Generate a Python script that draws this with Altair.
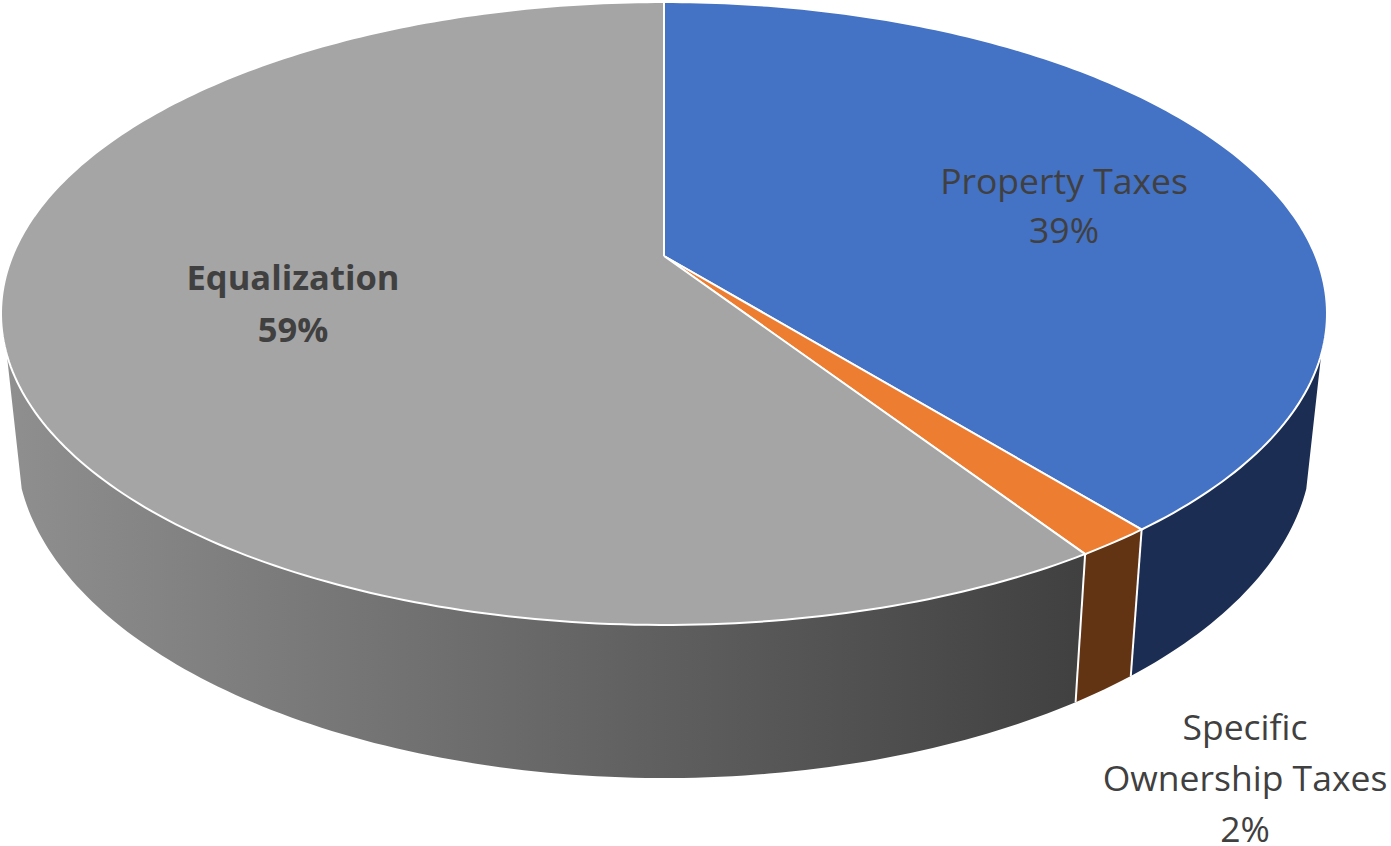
import math

import altair as alt
import pandas as pd

# Revenue shares, clockwise from twelve o'clock
categories = ["Property Taxes", "Specific Ownership Taxes", "Equalization"]
shares = [39.2, 1.6, 59.2]
top_colors = ["#4472C4", "#ED7D31", "#A5A5A5"]
wall_colors = ["#1B2D52", "#633414", "#8F8F8F"]

WIDTH, HEIGHT = 1391, 846
FONT = "Open Sans"
TEXT_COLOR = "#404040"

# Perspective disc: screen position of a point on the pie's unit circle
TILT = 0.1846
TOP_FACE = dict(ax=651.6, c=256.0, b=253.6)
FLOOR = dict(ax=636.8, c=383.5, b=250.9)
CENTER_X = 664.0
# Fraction of a turn at which the wall's silhouette leaves the rim
HORIZON = 30.0


def rim_point(percent, plane):
    angle = 2 * math.pi * percent / 100
    u, v = math.sin(angle), math.cos(angle)
    w = 1 + TILT * v
    return CENTER_X + plane["ax"] * u / w, (plane["c"] - plane["b"] * v) / w


def rim(start, end, plane, step=0.25):
    count = max(2, int(abs(end - start) / step) + 1)
    return [rim_point(start + (end - start) * i / (count - 1), plane) for i in range(count)]


def outline(points):
    closed = list(points) + [points[0]]
    return pd.DataFrame(
        [{"x": x, "y": y, "i": i} for i, (x, y) in enumerate(closed)]
    )


def encode(chart):
    return chart.encode(
        x=alt.X("x:Q", scale=alt.Scale(domain=[0, WIDTH]), axis=None),
        y=alt.Y("y:Q", scale=alt.Scale(domain=[HEIGHT, 0]), axis=None),
        order=alt.Order("i:Q"),
    )


def polygon(points, **style):
    return encode(alt.Chart(outline(points)).mark_line(**style))


edges = [0.0]
for value in shares:
    edges.append(edges[-1] + value)

layers = []

# Side walls, visible only on the near half of the disc
wall_ranges = [
    (HORIZON, edges[1]),
    (edges[1], edges[2]),
    (edges[2], 100.0 - HORIZON),
]
wall_fills = [
    wall_colors[0],
    wall_colors[1],
    alt.Gradient(
        gradient="linear",
        x1=0,
        x2=1,
        y1=0,
        y2=0,
        stops=[
            alt.GradientStop(offset=0, color=wall_colors[2]),
            alt.GradientStop(offset=1, color="#404040"),
        ],
    ),
]
for (start, end), fill in zip(wall_ranges, wall_fills):
    points = rim(start, end, TOP_FACE) + rim(end, start, FLOOR)
    layers.append(polygon(points, fill=fill, stroke=None, strokeWidth=0))

# White seams between neighbouring walls
for edge in edges[1:3]:
    seam = [rim_point(edge, TOP_FACE), rim_point(edge, FLOOR)]
    seam_df = pd.DataFrame([{"x": x, "y": y, "i": i} for i, (x, y) in enumerate(seam)])
    layers.append(encode(alt.Chart(seam_df).mark_line(color="#FFFFFF", strokeWidth=2)))

# Top face slices
for i, color in enumerate(top_colors):
    points = [(CENTER_X, TOP_FACE["c"])] + rim(edges[i], edges[i + 1], TOP_FACE)
    layers.append(polygon(points, fill=color, stroke="#FFFFFF", strokeWidth=2))

# Category labels: name lines, then the share as a whole percent
label_layout = [
    dict(x=1064, baseline=194, gap=49, lines=["Property Taxes"], weight="normal", size=35.5),
    dict(x=1245, baseline=740, gap=51, lines=["Specific", "Ownership Taxes"], weight="normal", size=35.5),
    dict(x=293, baseline=290, gap=52, lines=["Equalization"], weight="bold", size=34.5),
]
for spec, value in zip(label_layout, shares):
    rows = spec["lines"] + [f"{round(value)}%"]
    label_df = pd.DataFrame(
        [
            {"x": spec["x"], "y": spec["baseline"] + n * spec["gap"], "text": row, "i": n}
            for n, row in enumerate(rows)
        ]
    )
    layers.append(
        alt.Chart(label_df)
        .mark_text(
            font=FONT,
            fontSize=spec["size"],
            fontWeight=spec["weight"],
            color=TEXT_COLOR,
            align="center",
            baseline="alphabetic",
        )
        .encode(
            x=alt.X("x:Q", scale=alt.Scale(domain=[0, WIDTH]), axis=None),
            y=alt.Y("y:Q", scale=alt.Scale(domain=[HEIGHT, 0]), axis=None),
            text="text:N",
        )
    )

chart = (
    alt.layer(*layers)
    .properties(
        width=WIDTH,
        height=HEIGHT,
        padding=0,
        autosize=alt.AutoSizeParams(type="none"),
        background="#FFFFFF",
    )
    .configure_view(stroke=None)
)

chart.save("out.html", embed_options={"renderer": "svg", "actions": False})
